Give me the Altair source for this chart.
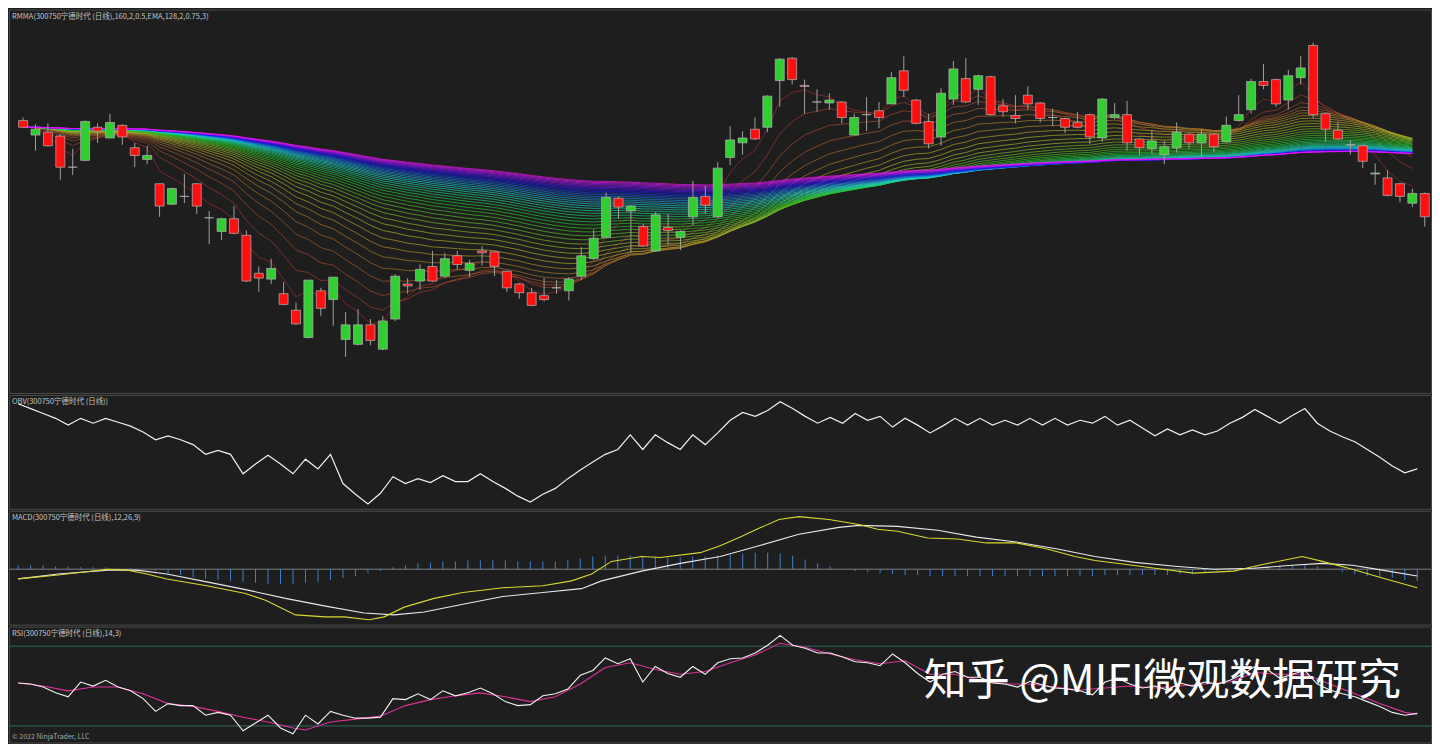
import colorsys
import altair as alt
import pandas as pd
import numpy as np

# ---------------- data ----------------
opens = [606,591,594,590,558,565,599,588,601,578,566,541,520,528,541,506,492,505,488,449,
         443,428,411,383,431,422,381,376,396,371,402,438,441,456,446,467,452,472,471,451,
         438,429,426,434,431,446,464,486,526,513,497,472,496,486,507,528,507,568,583,597,
         599,647,670,642,625,624,625,591,612,616,623,657,627,605,589,628,649,638,651,621,
         611,632,624,609,608,604,612,588,609,612,587,577,571,578,592,583,592,584,606,617,
         646,648,627,650,683,613,596,581,580,551,547,541,521,531]
highs = [609,602,603,592,577,606,603,613,602,583,580,541,537,551,542,513,506,518,493,456,
         464,440,419,442,434,445,409,412,402,405,448,444,458,472,470,472,463,477,472,452,
         439,434,444,442,445,476,494,532,528,519,500,512,510,493,544,539,563,600,595,609,
         632,670,671,648,638,634,626,613,630,625,656,672,628,613,639,667,670,653,652,628,
         632,641,625,618,609,615,613,629,624,626,588,596,585,604,593,597,593,610,632,649,
         664,649,658,672,686,614,604,586,581,562,555,542,536,532]
lows = [599,575,579,545,550,564,583,588,581,558,561,507,519,521,510,479,483,489,440,430,
        438,416,396,382,405,395,363,375,375,370,400,428,432,440,444,453,445,457,446,430,
        423,415,420,428,421,442,463,485,505,470,476,471,478,473,498,510,506,560,571,586,
        594,620,643,613,615,617,603,591,595,598,623,630,602,577,580,622,624,622,611,610,
        603,617,604,600,593,598,582,584,607,575,570,571,561,573,577,568,573,583,605,613,
        638,620,617,643,608,584,586,571,557,540,528,522,517,497]
closes = [599,597,580,558,558,605,595,604,589,570,570,518,536,528,518,506,505,490,441,444,
          454,417,397,442,413,445,396,396,380,400,446,436,453,441,464,458,459,470,456,434,
          429,416,422,434,443,467,485,527,517,518,477,509,493,492,527,519,557,586,588,587,
          631,669,648,641,625,627,609,609,612,609,650,637,603,582,634,659,625,652,612,615,
          608,623,608,609,599,599,589,628,612,583,578,585,579,594,583,592,579,601,612,646,
          642,623,652,660,612,597,587,581,564,552,529,528,531,507]

obv = [108,103,98,93,86,93,88,93,89,85,79,71,75,71,66,56,60,56,36,46,
       55,46,36,51,41,56,26,15,5,16,33,26,31,27,34,28,28,36,28,21,
       13,7,15,21,31,40,48,56,61,76,61,76,68,61,76,66,78,91,99,95,
       101,110,103,95,88,94,88,98,91,95,84,93,86,78,85,93,86,93,86,91,
       86,93,86,93,86,91,88,95,86,91,83,75,82,76,81,76,80,88,94,102,
       95,88,96,103,88,80,74,69,61,53,44,37,41]

macd_bar = [0,3.2,7.2,8.75,10.3,11.9,15.1,18.2,19.8,22.2,24.6,26.1,28.1,29.3,30.9,33.3,35.6,38.8,42,44.3,
            45.9,47.5,49.9,51.4,54.6,56.2,57.8,59.3,60.9,62.5,64.9,67.3,68.8,70.4,72.8,75.2,77.5,79.9,82.3,84.6,
            86.2,88.6,91,94.1,97.3,99.7,102,102.8,104.4,106.8,109.2,112]
macd = [-5,-3,0,-0.5,-2.5,-5,-8.5,-12.5,-16,-23.5,-24.5,-24.5,-26,-24.5,-19.5,-15,-12,-9.5,-8.5,-6,
        -2.5,4,6.5,6,8.5,12,16.5,21,25.5,27,25.5,23,20.5,19.5,16,15.5,13.5,13.5,10.5,6.5,
        4.5,2.5,0.5,-2,-1,2.5,5.5,6.5,4,0,-4.5,-9.5]
sig_bar = [0,3.2,7.2,9.5,11.9,15.1,18.2,21.4,24.6,27.7,30.1,32.5,35.6,38.8,42,45.1,46.7,49.9,53,56.2,
           59.3,62.5,65.7,67.3,70.4,73.6,76.7,79.9,83.1,86.2,89.4,92.6,95.7,98.9,102,104.4,106.8,109.2,112]
signal = [-5,-2.5,-0.5,-0.5,-2.5,-6.5,-10.5,-15,-19,-22.5,-23.5,-22,-18,-14,-12,-10,-6,-1,3,6.5,
          12,18,21.5,22.5,22,20,16.5,14,10.5,6.5,3.5,1.5,0,0.5,2,3,2,-0.5,-3.5]
hist = [2,2,2,1.5,1.5,1,1,1,0.5,0.5,0,
        -1,-2,-3,-4,-5,-5.5,-6,-6.5,-7,-7.5,-7.5,-7.5,-7,-6.5,-5.5,-4.5,-3.5,-2,-1,
        1,2,3,3.5,4,4,4.5,4.5,4.5,4.5,4,4,4,4,4.5,
        5.5,6.5,7,7,7,6.5,6.5,6,6,6.5,6.5,7,7.5,8,8.5,8.5,8,7,5,
        3,1.5,0,
        -1,-1.5,-2,-2.5,-3,-3,-3.5,-3.5,-3.5,-3.5,-3.5,-3.5,-3.5,-3.5,-3.5,-3.5,-3.5,-3.5,-3.5,-3.5,
        -3,-3,-3,-3,-3,-3,-2.5,-2.5,-2,-1.5,-1,
        0.5,1,1.5,2,2,2,1.5,
        -0.5,-1.5,-2.5,-3.5,-4,-4.5,-5.5,-6]

rsi = [51.5,51.0,49.5,46.6,44.6,52.0,50.0,52.9,49.5,47.6,
       43.7,37.3,41.2,40.2,40.2,35.4,36.8,35.4,27.6,31.5,
       35.4,29.0,26.1,35.4,31.0,37.3,35.4,33.9,33.9,34.4,
       43.7,43.2,46.1,43.2,47.6,45.1,46.6,49.0,46.1,42.2,
       40.2,40.7,45.1,46.1,48.5,55.4,57.8,64.1,61.2,63.7,
       52.0,59.8,56.3,54.4,59.8,55.9,61.7,63.7,64.1,66.6,
       70.5,75.4,70.5,69.0,66.6,66.6,64.6,62.2,61.7,60.2,
       66.1,61.7,56.3,52.0,55.9,57.3,54.4,54.4,51.5,51.0,
       49.5,52.4,50.5,49.0,48.5,47.6,45.6,52.0,
       53.9,51.0,49.0,50.0,48.0,51.5,50.0,52.0,51.0,52.9,55.9,59.8,58.3,53.9,55.9,57.8,
       51.0,48.0,46.1,44.6,42.2,39.8,36.8,35.4,36.3]
rsi_avg_bar = [0,2,4,6,8,10,12,14,16,18,20,22,23,25,27,29,31,33,35,37,39,41,43,45,47,49,51,53,55,57,
               59,61,63,65,67,69,71,73,75,77,79,81,83,85,87,89,91,93,95,97,99,101,103,105,107,109,111,112]
rsi_avg = [51.5,50.0,47.6,49.5,49.5,46.1,41.2,39.8,37.3,34.4,32.0,29.0,28.0,32.0,33.4,34.9,40.2,43.2,45.1,46.6,
           44.6,42.2,44.6,51.0,59.3,61.7,58.3,55.9,57.3,61.7,65.6,71.5,69.5,66.1,63.2,61.2,62.7,55.9,55.9,52.9,
           51.0,51.0,49.5,48.0,49.0,50.0,49.0,50.0,51.0,52.0,56.8,55.9,55.9,51.0,46.1,41.2,36.8,35.9]

ribbon_periods = list(range(4, 164, 4))

TITLE_MAIN = "RMMA(300750宁德时代 (日线),160,2,0.5,EMA,128,2,0.75,3)"
TITLE_OBV = "OBV(300750宁德时代 (日线))"
TITLE_MACD = "MACD(300750宁德时代 (日线),12,26,9)"
TITLE_RSI = "RSI(300750宁德时代 (日线),14,3)"
FOOTER = "© 2022 NinjaTrader, LLC"
WATERMARK = "知乎 @MIFI微观数据研究"

# ---------------- layout / style ----------------
W = 1424
H_MAIN, H_OBV, H_MACD, H_RSI = 384, 114, 114, 116
BG = "#1e1e1e"
FONT = "Noto Sans CJK SC"
XS = alt.Scale(domain=[-0.735, 113.1], nice=False, zero=False)

n = len(closes)
cdf = pd.DataFrame({"bar": range(n), "open": opens, "high": highs, "low": lows, "close": closes})
cdf["dir"] = np.where(cdf.close > cdf.open, "up", np.where(cdf.close < cdf.open, "down", "flat"))

cs = pd.Series(closes[:-1], dtype=float)
rows = []
for k, p in enumerate(ribbon_periods):
    ema = cs.ewm(span=p, adjust=False).mean()
    for b, v in enumerate(ema):
        rows.append({"bar": b, "ema": float(v), "line": "L%02d" % k})
rdf = pd.DataFrame(rows)
nl = len(ribbon_periods)
rcolors = []
for k in range(nl):
    t = k / (nl - 1)
    sat = 0.55 + 0.35 * t
    light = 0.40 + 0.12 * t
    r, g, b = colorsys.hls_to_rgb((300.0 * t) / 360.0, light, sat)
    rcolors.append("#%02x%02x%02x" % (int(r * 255), int(g * 255), int(b * 255)))

YM = alt.Scale(domain=[326, 720], nice=False, zero=False)
x_enc = alt.X("bar:Q", scale=XS, axis=None)

ribbon = alt.Chart(rdf).mark_line(strokeWidth=1, opacity=0.7, clip=True).encode(
    x=x_enc,
    y=alt.Y("ema:Q", scale=YM, axis=None),
    color=alt.Color("line:N", scale=alt.Scale(domain=["L%02d" % k for k in range(nl)], range=rcolors),
                    legend=None),
)
wicks = alt.Chart(cdf).mark_rule(color="#a0a0a0", strokeWidth=1, clip=True).encode(
    x=x_enc, y=alt.Y("low:Q", scale=YM, axis=None), y2="high:Q"
)
bodies = alt.Chart(cdf).mark_bar(size=9, stroke="#b4b4b4", strokeWidth=0.7, clip=True).encode(
    x=x_enc, y=alt.Y("open:Q", scale=YM, axis=None), y2="close:Q",
    fill=alt.Fill("dir:N", scale=alt.Scale(domain=["up", "down", "flat"],
                                           range=["#32cd32", "#ff1010", "#d0d0d0"]), legend=None),
)


def title_layer(t):
    return alt.Chart(pd.DataFrame({"t": [t]})).mark_text(
        align="left", baseline="top", color="#c4c4c4", fontSize=7.5, font=FONT
    ).encode(x=alt.value(3), y=alt.value(3), text="t:N")


main = alt.layer(ribbon, wicks, bodies, title_layer(TITLE_MAIN)).resolve_scale(
    color="independent", fill="independent"
).properties(width=W, height=H_MAIN)

odf = pd.DataFrame({"bar": range(len(obv)), "obv": obv})
obv_c = alt.layer(
    alt.Chart(odf).mark_line(color="#f0f0f0", strokeWidth=1.2).encode(
        x=x_enc, y=alt.Y("obv:Q", scale=alt.Scale(domain=[0, 117], nice=False), axis=None)),
    title_layer(TITLE_OBV),
).properties(width=W, height=H_OBV)

YMACD = alt.Scale(domain=[-28.5, 30], nice=False, zero=False)
mdf = pd.DataFrame({"bar": macd_bar, "v": macd})
sdf = pd.DataFrame({"bar": sig_bar, "v": signal})
hdf = pd.DataFrame({"bar": range(len(hist)), "h": hist, "z": 0.0})
macd_c = alt.layer(
    alt.Chart(pd.DataFrame({"z": [0]})).mark_rule(color="#808080", strokeWidth=1).encode(
        y=alt.Y("z:Q", scale=YMACD, axis=None)),
    alt.Chart(hdf).mark_rule(color="#3f7fd0", strokeWidth=1).encode(
        x=x_enc, y=alt.Y("z:Q", scale=YMACD, axis=None), y2="h:Q"),
    alt.Chart(sdf).mark_line(color="#e8e8e8", strokeWidth=1.1).encode(
        x=x_enc, y=alt.Y("v:Q", scale=YMACD, axis=None)),
    alt.Chart(mdf).mark_line(color="#d8d832", strokeWidth=1.1).encode(
        x=x_enc, y=alt.Y("v:Q", scale=YMACD, axis=None)),
    title_layer(TITLE_MACD),
).properties(width=W, height=H_MACD)

YRSI = alt.Scale(domain=[21.7, 79.8], nice=False, zero=False)
rdf2 = pd.DataFrame({"bar": range(len(rsi)), "v": rsi})
radf = pd.DataFrame({"bar": rsi_avg_bar, "v": rsi_avg})
rsi_c = alt.layer(
    alt.Chart(pd.DataFrame({"lv": [30, 70]})).mark_rule(color="#2f6a5c", strokeWidth=1).encode(
        y=alt.Y("lv:Q", scale=YRSI, axis=None)),
    alt.Chart(radf).mark_line(color="#e0309a", strokeWidth=1.1).encode(
        x=x_enc, y=alt.Y("v:Q", scale=YRSI, axis=None)),
    alt.Chart(rdf2).mark_line(color="#f0f0f0", strokeWidth=1.1).encode(
        x=x_enc, y=alt.Y("v:Q", scale=YRSI, axis=None)),
    title_layer(TITLE_RSI),
    alt.Chart(pd.DataFrame({"t": [FOOTER]})).mark_text(
        align="left", baseline="middle", color="#a8a8a8", fontSize=7, font=FONT
    ).encode(x=alt.value(3), y=alt.value(H_RSI - 5), text="t:N"),
    alt.Chart(pd.DataFrame({"t": [WATERMARK]})).mark_text(
        align="left", baseline="middle", color="#ffffff", fontSize=43, font=FONT
    ).encode(x=alt.value(916), y=alt.value(55), text="t:N"),
).properties(width=W, height=H_RSI)

chart = alt.vconcat(main, obv_c, macd_c, rsi_c, spacing=0).properties(
    padding=0, background=BG
).configure_view(stroke="#4a4a4a", strokeWidth=1, fill=BG)

chart.save("out.html", embed_options={"renderer": "svg", "actions": False})
